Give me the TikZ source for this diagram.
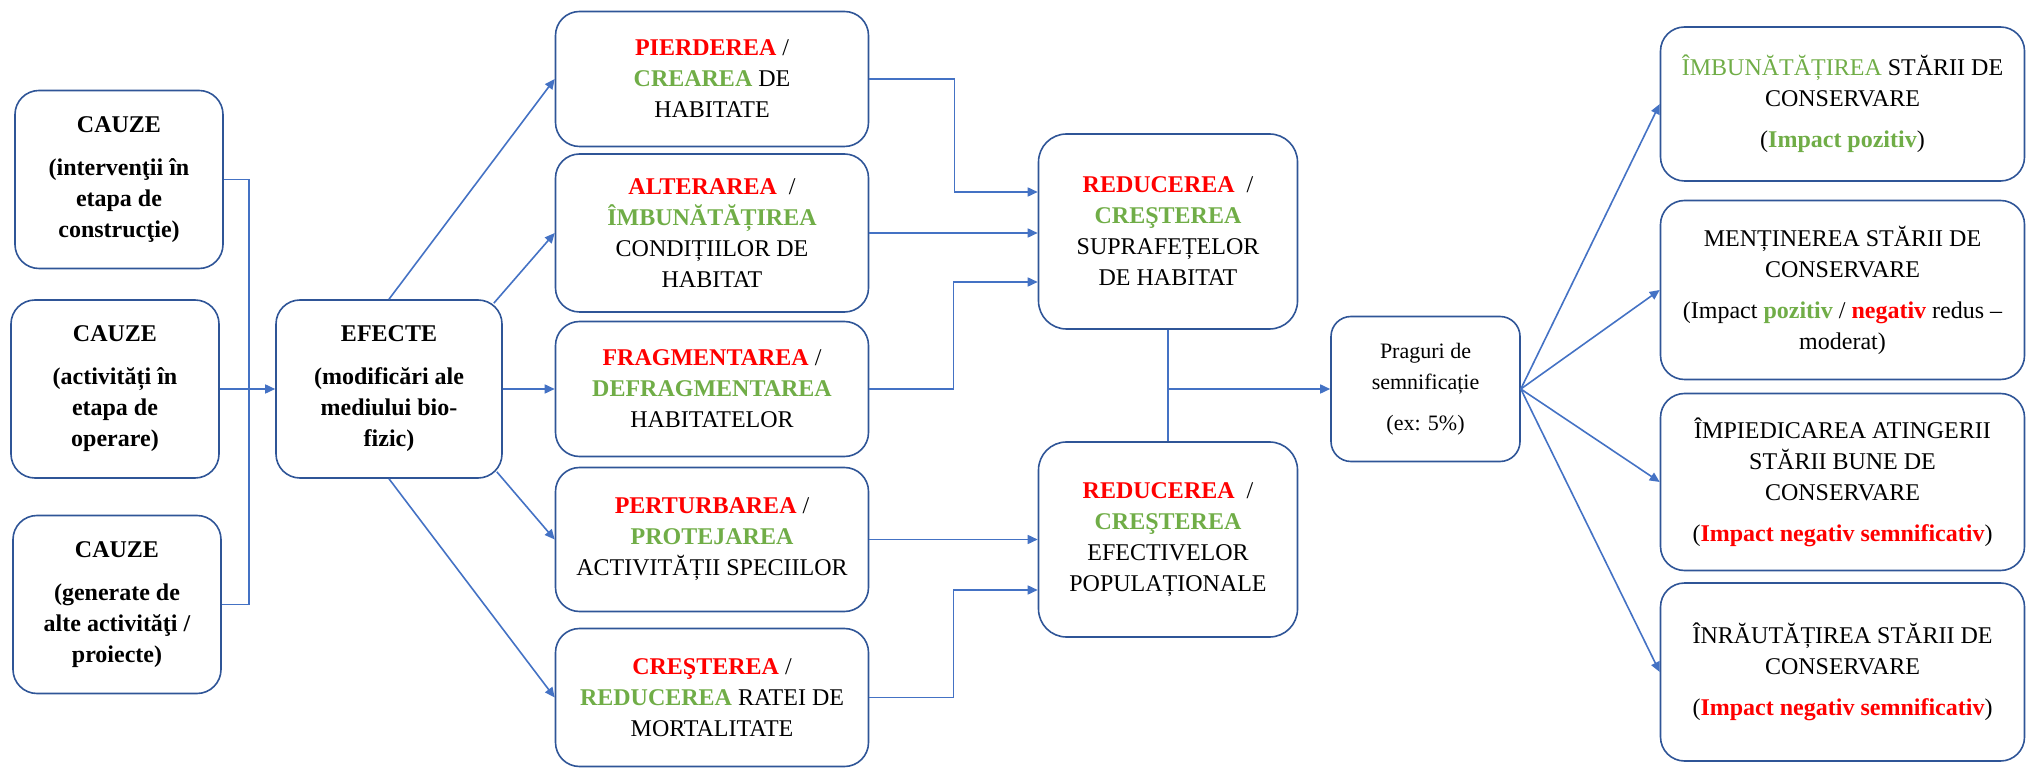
\documentclass[tikz,border=0pt]{standalone}
\usepackage{fontspec}
\setmainfont{Liberation Serif}
\usetikzlibrary{positioning,arrows.meta}
\definecolor{lineblue}{HTML}{4472C4}
\definecolor{boxblue}{HTML}{2F5597}
\definecolor{impred}{HTML}{FF0000}
\definecolor{impgreen}{HTML}{70AD47}
\newcommand{\rosu}[1]{\textcolor{impred}{\textbf{#1}}}
\newcommand{\verde}[1]{\textcolor{impgreen}{\textbf{#1}}}
\tikzstyle{box} = [draw=boxblue, line width=0.8pt, rounded corners=12pt, align=center, font=\fontsize{12}{15.5}\selectfont]
\tikzstyle{cause} = [box, font=\bfseries\fontsize{12}{15.5}\selectfont, minimum width=104pt, minimum height=89pt]
\tikzstyle{change} = [box, minimum width=156.5pt]
\tikzstyle{trend} = [box, rounded corners=14pt, minimum width=129.5pt, minimum height=97.5pt]
\tikzstyle{threshold} = [box, rounded corners=10pt, font=\fontsize{11}{15.5}\selectfont, minimum width=94.5pt, minimum height=72.5pt]
\tikzstyle{status} = [box, minimum width=182pt]
\tikzstyle{junction} = [coordinate]
\tikzstyle{link} = [draw=lineblue, line width=0.8pt]

\begin{document}
\begin{tikzpicture}[auto, node distance=161.5pt, >={Triangle[length=5pt,width=4.5pt]}]
        \useasboundingbox (0,0) rectangle (1013.5pt,-384.5pt);

        \node [cause] (cauze2) at (57.5pt,-194.5pt) {CAUZE\\[6pt] (activități în\\ etapa de\\ operare)};
        \node [cause, above of=cauze2, node distance=104.75pt, xshift=2pt] (cauze1) {CAUZE\\[6pt] (intervenţii în\\ etapa de\\ construcţie)};
        \node [cause, below of=cauze2, node distance=107.75pt, xshift=1pt] (cauze3) {CAUZE\\[6pt] (generate de\\ alte activităţi /\\ proiecte)};
        \node [junction, right of=cauze2, node distance=67pt] (join) {};
        \node [cause, minimum width=113pt, right of=cauze2, node distance=137pt] (efecte) {EFECTE\\[6pt] (modificări ale\\ mediului bio-\\ fizic)};

        \node [change, minimum height=67.5pt, right of=efecte] (fragm) {\rosu{FRAGMENTAREA} /\\ \verde{DEFRAGMENTAREA}\\ HABITATELOR};
        \node [change, minimum height=67.5pt, above of=fragm, node distance=155pt] (pierdere) {\rosu{PIERDEREA} /\\ \verde{CREAREA} DE\\ HABITATE};
        \node [change, minimum height=79pt, above of=fragm, node distance=78pt] (alterare) {\rosu{ALTERAREA}~~/\\ \verde{ÎMBUNĂTĂȚIREA}\\ CONDIȚIILOR DE\\ HABITAT};
        \node [change, minimum height=72pt, below of=fragm, node distance=75.25pt] (perturb) {\rosu{PERTURBAREA} /\\ \verde{PROTEJAREA}\\ ACTIVITĂȚII SPECIILOR};
        \node [change, minimum height=69pt, below of=fragm, node distance=154.25pt] (crestere) {\rosu{CREŞTEREA} /\\ \verde{REDUCEREA} RATEI DE\\ MORTALITATE};

        \node [junction, right of=fragm, node distance=228pt] (hub) {};
        \node [trend, above of=hub, node distance=78.75pt] (supraf) {\rosu{REDUCEREA}~~/\\ \verde{CREŞTEREA}\\ SUPRAFEȚELOR\\ DE HABITAT};
        \node [trend, below of=hub, node distance=75.25pt] (efectiv) {\rosu{REDUCEREA}~~/\\ \verde{CREŞTEREA}\\ EFECTIVELOR\\ POPULAȚIONALE};
        \node [threshold, right of=hub, node distance=128.75pt] (praguri) {Praguri de\\ semnificație\\[5pt] (ex: 5\%)};

        \node [junction, right of=praguri, node distance=208.5pt] (fan) {};
        \node [status, minimum height=77pt, above of=fan, node distance=142.5pt] (st1) {\textcolor{impgreen}{ÎMBUNĂTĂȚIREA} STĂRII DE\\ CONSERVARE\\[5pt] (\verde{Impact pozitiv})};
        \node [status, minimum height=89.5pt, above of=fan, node distance=49.5pt] (st2) {MENȚINEREA STĂRII DE\\ CONSERVARE\\[5pt] (Impact \verde{pozitiv} / \rosu{negativ} redus –\\ moderat)};
        \node [status, minimum height=88.5pt, below of=fan, node distance=46.5pt] (st3) {ÎMPIEDICAREA ATINGERII\\ STĂRII BUNE DE\\ CONSERVARE\\[5pt] (\rosu{Impact negativ semnificativ})};
        \node [status, minimum height=89pt, below of=fan, node distance=141.5pt] (st4) {ÎNRĂUTĂȚIREA STĂRII DE\\ CONSERVARE\\[5pt] (\rosu{Impact negativ semnificativ})};

        \draw [link] (cauze1) -| (join);
        \draw [link] (cauze3) -| (join);
        \draw [link, ->] (cauze2) -- (efecte);

        \draw [link, ->] (efecte.north) -- (pierdere.west);
        \draw [link, ->] ([xshift=-4.5pt,yshift=-2pt]efecte.north east) -- (alterare.west);
        \draw [link, ->] (efecte) -- (fragm);
        \draw [link, ->] ([xshift=-3pt,yshift=3.5pt]efecte.south east) -- (perturb.west);
        \draw [link, ->] (efecte.south) -- (crestere.west);

        \draw [link, ->] (pierdere.east) -- ++(42.5pt,0) |- ([yshift=19.75pt]supraf.west);
        \draw [link, ->] (alterare) -- (alterare -| supraf.west);
        \draw [link, ->] (fragm.east) -- ++(42pt,0) |- ([yshift=-25.25pt]supraf.west);
        \draw [link, ->] (perturb) -- (perturb -| efectiv.west);
        \draw [link, ->] (crestere.east) -- ++(42pt,0) |- ([yshift=-25.25pt]efectiv.west);

        \draw [link] (supraf) -- (efectiv);
        \draw [link, ->] (hub) -- (praguri);

        \draw [link, ->] (praguri.east) -- (st1.west);
        \draw [link, ->] (praguri.east) -- (st2.west);
        \draw [link, ->] (praguri.east) -- (st3.west);
        \draw [link, ->] (praguri.east) -- (st4.west);
\end{tikzpicture}
\end{document}
